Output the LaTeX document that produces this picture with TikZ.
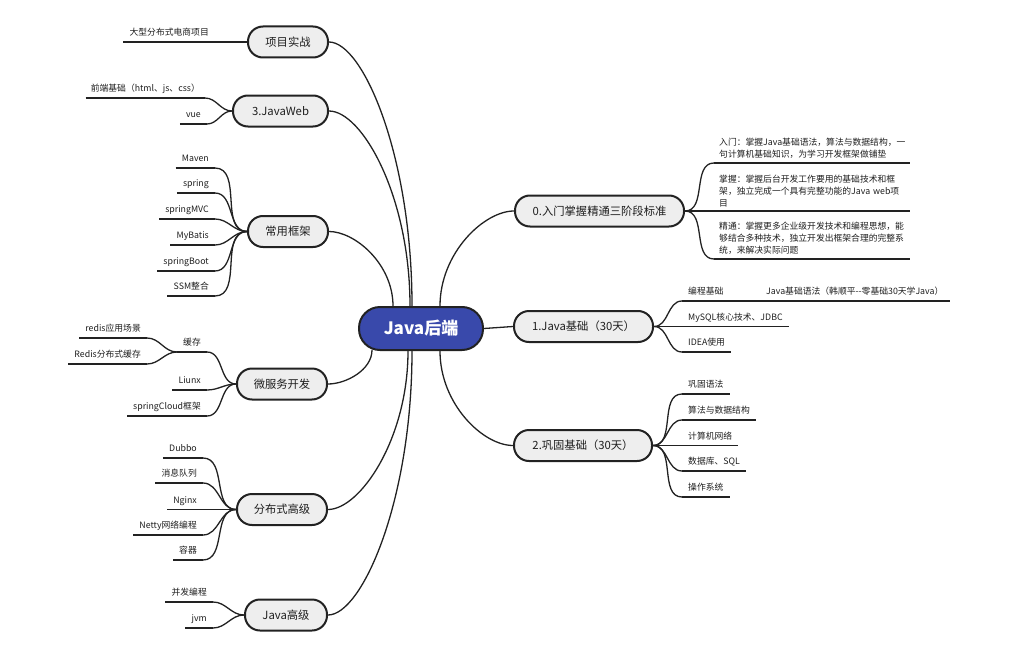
\documentclass[tikz,border=0pt]{standalone}
\usepackage{fontspec}
\setmainfont{Noto Sans CJK SC}
\usetikzlibrary{calc}
\pgfdeclarelayer{bg}\pgfsetlayers{bg,main}
\definecolor{rootblue}{RGB}{57,73,171}
\definecolor{linec}{RGB}{34,34,34}
\definecolor{nodefill}{RGB}{238,238,238}
\definecolor{txt}{RGB}{30,30,30}
\tikzset{
  topic/.style={draw=linec, line width=2pt, fill=nodefill, rounded corners=15pt,
    minimum height=31pt, inner sep=0pt, text=txt,
    font=\fontsize{11.3pt}{13pt}\selectfont},
  rootnode/.style={draw=linec, line width=2pt, fill=rootblue, rounded corners=21pt,
    minimum width=124pt, minimum height=43pt, inner sep=0pt, text=white,
    font=\fontsize{17pt}{19pt}\selectfont\bfseries},
  leaf/.style={text=txt, inner xsep=6pt, inner ysep=4pt,
    font=\fontsize{8.8pt}{12pt}\selectfont},
  leaf1/.style={leaf, text height=7pt, text depth=2pt},
  leafm/.style={leaf, align=left, text width=186pt, inner xsep=5pt},
  conn/.style={draw=linec, line width=1.3pt},
  uline/.style={draw=linec, line width=1.5pt},
}
\begin{document}
\begin{tikzpicture}[x=1pt,y=-1pt]
\useasboundingbox (0,0) rectangle (1012,669);
% root and topics
\node[rootnode] (root) at (421,328.5) {Java后端};
\node[topic, minimum width=80pt] (xm) at (288,42) {项目实战};
\node[topic, minimum width=95pt] (jw) at (280.5,111) {3.JavaWeb};
\node[topic, minimum width=80pt] (kj) at (288,231.5) {常用框架};
\node[topic, minimum width=90pt] (wf) at (282,384) {微服务开发};
\node[topic, minimum width=90pt] (fb) at (282,509.5) {分布式高级};
\node[topic, minimum width=82pt] (jg) at (286,615) {Java高级};
\node[topic, minimum width=169pt] (rm) at (599.5,211) {0.入门掌握精通三阶段标准};
\node[topic, minimum width=139pt] (jc) at (583.5,326.5) {1.Java基础（30天）};
\node[topic, minimum width=138pt] (gg) at (583,445.5) {2.巩固基础（30天）};
% left leaves
\node[leaf1, anchor=south east] (l1) at (215,42) {大型分布式电商项目};
\node[leaf1, anchor=south east, inner xsep=5pt] (l2) at (205,98) {前端基础（html、js、css）\hspace{4pt}};
\node[leaf1, anchor=south east] (l3) at (207,124) {vue\hspace{4pt}};
\node[leaf1, anchor=south east] (l4) at (215,168) {Maven};
\node[leaf1, anchor=south east] (l5) at (215,193) {spring};
\node[leaf1, anchor=south east] (l6) at (215,219) {springMVC};
\node[leaf1, anchor=south east] (l7) at (215,245) {MyBatis};
\node[leaf1, anchor=south east] (l8) at (215,271) {springBoot};
\node[leaf1, anchor=south east] (l9) at (215,296) {SSM整合};
\node[leaf1, anchor=south east] (l10) at (207,352) {缓存};
\node[leaf1, anchor=south east] (l11) at (147,338) {redis应用场景};
\node[leaf1, anchor=south east] (l12) at (147,364) {Redis分布式缓存};
\node[leaf1, anchor=south east] (l13) at (207,390) {Liunx};
\node[leaf1, anchor=south east] (l14) at (207,416) {springCloud框架};
\node[leaf1, anchor=south east] (l15) at (203,458) {Dubbo};
\node[leaf1, anchor=south east] (l16) at (203,483) {消息队列};
\node[leaf1, anchor=south east] (l17) at (203,509.5) {Nginx};
\node[leaf1, anchor=south east] (l18) at (203,535) {Netty网络编程};
\node[leaf1, anchor=south east] (l19) at (203,560) {容器};
\node[leaf1, anchor=south east] (l20) at (213,602) {并发编程};
\node[leaf1, anchor=south east] (l21) at (213,628) {jvm};
% right leaves
\node[leafm, anchor=south west] (r1) at (714,163) {入门：掌握Java基础语法，算法与数据结构，一\\句计算机基础知识，为学习开发框架做铺垫};
\node[leafm, anchor=south west] (r2) at (714,211) {掌握：掌握后台开发工作要用的基础技术和框\\架，独立完成一个具有完整功能的Java web项\\目};
\node[leafm, anchor=south west] (r3) at (714,259) {精通：掌握更多企业级开发技术和编程思想，能\\够结合多种技术，独立开发出框架合理的完整系\\统，来解决实际问题};
\node[leaf1, anchor=south west] (r4) at (682,301) {编程基础};
\node[leaf1, anchor=south west] (r5) at (760,301) {Java基础语法（韩顺平{-}{-}零基础30天学Java）};
\node[leaf1, anchor=south west] (r6) at (682,326.5) {MySQL核心技术、JDBC};
\node[leaf1, anchor=south west] (r7) at (682,352) {IDEA使用};
\node[leaf1, anchor=south west] (r8) at (682,394) {巩固语法};
\node[leaf1, anchor=south west] (r9) at (682,420) {算法与数据结构};
\node[leaf1, anchor=south west] (r10) at (682,445.5) {计算机网络};
\node[leaf1, anchor=south west] (r11) at (682,471) {数据库、SQL};
\node[leaf1, anchor=south west] (r12) at (682,497) {操作系统};
\begin{pgfonlayer}{bg}
% underlines
\foreach \n in {l1,l2,l3,l4,l5,l6,l7,l8,l9,l10,l11,l12,l13,l14,l15,l16,l17,l18,l19,l20,l21,r1,r2,r3,r4,r5,r6,r7,r8,r9,r10,r11,r12}
  \draw[uline] (\n.south west) -- (\n.south east);
% root connectors
\draw[conn] (xm.east) .. controls +(34,0) and +(0,-150) .. ($(root.north)+(-9,0)$);
\draw[conn] (jw.east) .. controls +(33,0) and +(0,-110) .. ($(root.north)+(-11,0)$);
\draw[conn] (kj.east) .. controls +(26,0) and +(0,-42) .. ($(root.north)+(-28,0)$);
\draw[conn] (rm.west) .. controls +(-30,0) and +(0,-53) .. ($(root.north)+(19,0)$);
\draw[conn] (wf.east) .. controls +(18,0) and +(0,20) .. ($(root.south)+(-49,-1)$);
\draw[conn] (fb.east) .. controls +(32,0) and +(0,88) .. ($(root.south)+(-13,0)$);
\draw[conn] (jg.east) .. controls +(34,0) and +(0,150) .. ($(root.south)+(-9,0)$);
\draw[conn] (gg.west) .. controls +(-30,0) and +(0,53) .. ($(root.south)+(19,0)$);
\draw[conn] (root.east) -- (jc.west);
% left leaf connectors
\draw[conn] (xm.west) -- (l1.south east);
\foreach \n in {l2,l3} \draw[conn] (jw.west) to[out=180,in=0] (\n.south east);
\foreach \n in {l4,l5,l6,l7,l8,l9} \draw[conn] (kj.west) to[out=180,in=0] (\n.south east);
\foreach \n in {l10,l13,l14} \draw[conn] (wf.west) to[out=180,in=0] (\n.south east);
\foreach \n in {l11,l12} \draw[conn] (l10.south west) to[out=180,in=0] (\n.south east);
\foreach \n in {l15,l16,l17,l18,l19} \draw[conn] (fb.west) to[out=180,in=0] (\n.south east);
\foreach \n in {l20,l21} \draw[conn] (jg.west) to[out=180,in=0] (\n.south east);
% right leaf connectors
\foreach \n in {r1,r2,r3} \draw[conn] (rm.east) to[out=0,in=180] (\n.south west);
\foreach \n in {r4,r6,r7} \draw[conn] (jc.east) to[out=0,in=180] (\n.south west);
\draw[conn] (r4.south east) -- (r5.south west);
\foreach \n in {r8,r9,r10,r11,r12} \draw[conn] (gg.east) to[out=0,in=180] (\n.south west);
\end{pgfonlayer}
\end{tikzpicture}
\end{document}
